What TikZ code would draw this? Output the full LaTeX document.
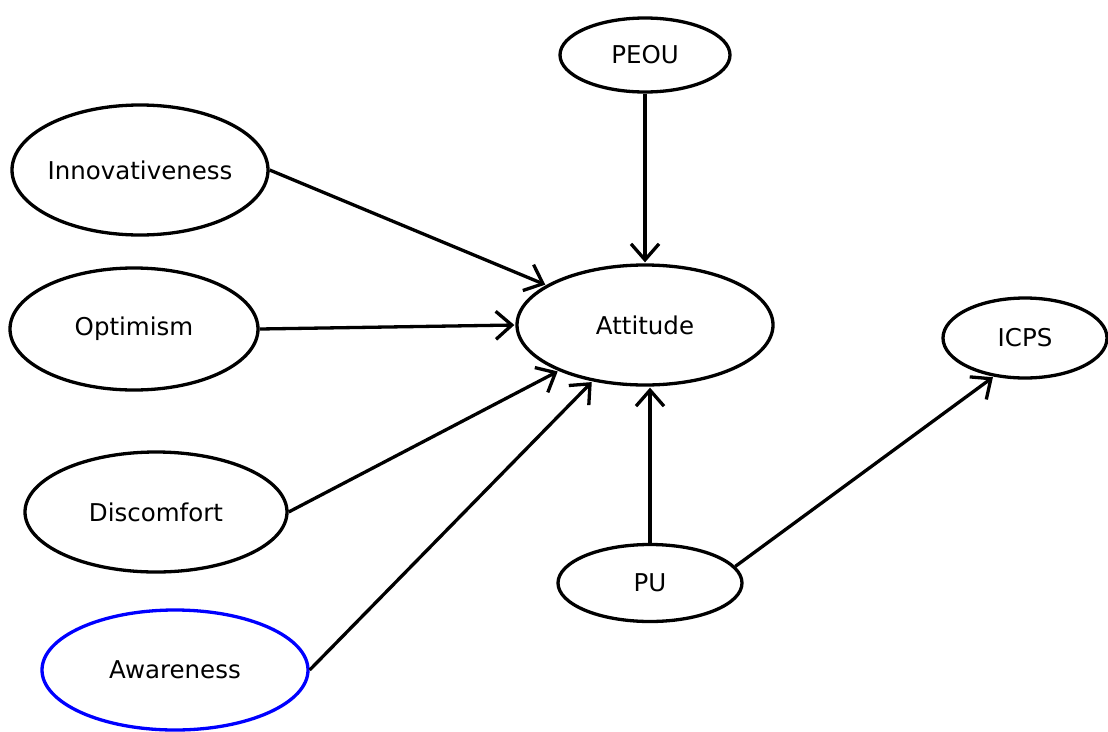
\documentclass[tikz,border=0pt]{standalone}
\usepackage{fontspec}
\setmainfont{DejaVu Sans}
\usetikzlibrary{shapes.geometric,arrows.meta}
\newcommand{\lbl}[1]{\makebox[0pt]{#1}}
\begin{document}
\begin{tikzpicture}[x=1pt,y=-1pt,
  construct/.style={ellipse,draw=black,line width=3.3pt,inner sep=0pt,
    font=\fontsize{24.5}{28}\selectfont,fill=white},
  link/.style={line width=3.3pt,-{Straight Barb[length=16pt,width=28pt,line width=3.3pt]},shorten >=1pt}]
\useasboundingbox (0,0) rectangle (1108,731);
\fill[white] (0,0) rectangle (1108,731);

\node[construct,minimum width=170pt,minimum height=74pt] (peou) at (645,55) {\lbl{PEOU}};
\node[construct,minimum width=256pt,minimum height=130pt] (innov) at (140,170) {\lbl{Innovativeness}};
\node[construct,minimum width=248pt,minimum height=122pt] (opt) at (134,329) {\lbl{Optimism}};
\node[construct,minimum width=256pt,minimum height=120pt] (att) at (645,325) {\lbl{Attitude}};
\node[construct,minimum width=164pt,minimum height=80pt] (icps) at (1025,338) {\lbl{ICPS}};
\node[construct,minimum width=262pt,minimum height=120pt] (disc) at (156,512) {\lbl{Discomfort}};
\node[construct,minimum width=184pt,minimum height=77pt] (pu) at (650,583) {\lbl{PU}};
\node[construct,draw=blue,minimum width=266pt,minimum height=120pt] (aware) at (175,670) {\lbl{Awareness}};

\draw[link] (peou.south) -- (att.north);
\draw[link] (innov.east) -- (att.158.6);
\draw[link] (opt.east) -- (att.west);
\draw[link] (disc.east) -- (att.208.6);
\draw[link] (aware.east) -- (att.227.7);
\draw[link] (pu.north) -- (pu.north |- att.south);
\draw[link] (pu.11.6) -- (icps.231);
\end{tikzpicture}
\end{document}
